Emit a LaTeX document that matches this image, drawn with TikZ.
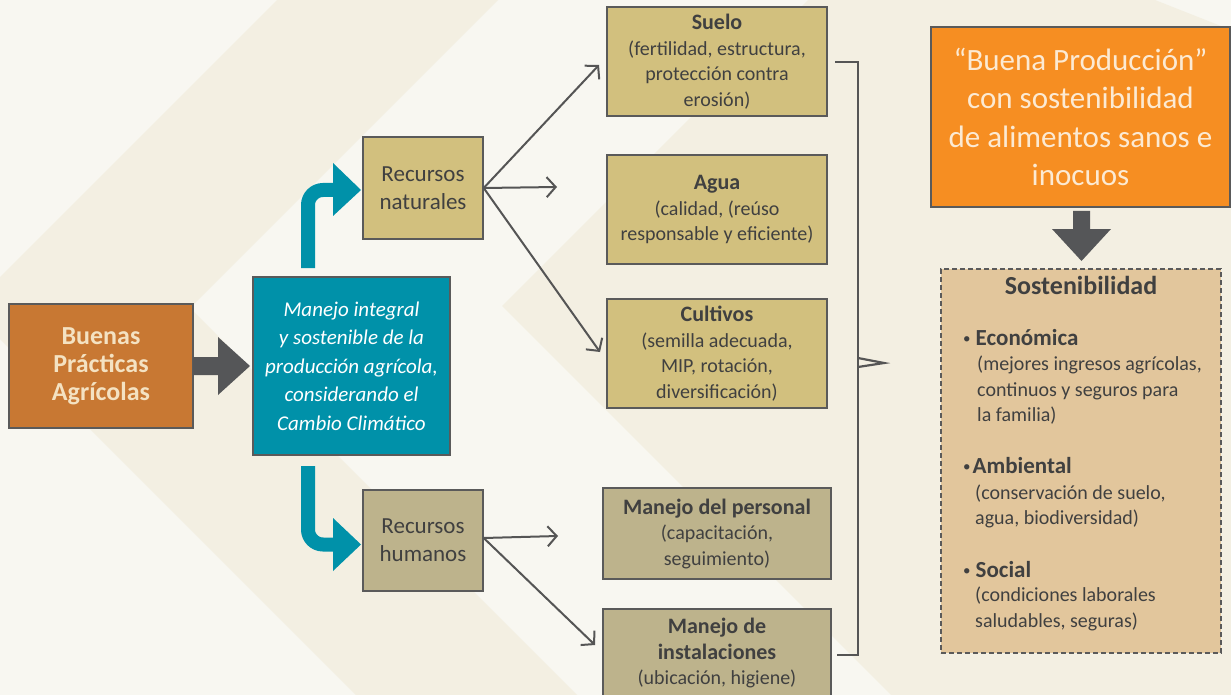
\documentclass[tikz,border=0pt]{standalone}
\usepackage{fontspec}
\setmainfont{Carlito}
\usetikzlibrary{arrows.meta}
\definecolor{bgA}{HTML}{F8F7F1}
\definecolor{bgB}{HTML}{F3EFE2}
\definecolor{bd}{HTML}{5A5A5A}
\definecolor{txt}{HTML}{404040}
\definecolor{ln}{HTML}{555555}
\definecolor{garr}{HTML}{555658}
\definecolor{brn}{HTML}{C87833}
\definecolor{cream}{HTML}{F4E2C2}
\definecolor{tealc}{HTML}{0091A9}
\definecolor{khA}{HTML}{D2C07E}
\definecolor{khB}{HTML}{BDB38C}
\definecolor{orng}{HTML}{F68E22}
\definecolor{ocream}{HTML}{FCEAD3}
\definecolor{tanc}{HTML}{E2C69C}
\newcommand\myfs[2]{\fontsize{#1}{#2}\selectfont}
\newcommand\mybul{{\mdseries\myfs{15}{15}\raisebox{1.5pt}{•}}}
\begin{document}
\begin{tikzpicture}[x=1pt,y=-1pt,
  box/.style={draw=bd, line width=1.4pt, inner sep=0pt, align=center, text=txt},
  body/.style={font=\myfs{20}{25.5}},
  conn/.style={draw=ln, line width=2pt, -{Straight Barb[length=9pt,width=20pt]}},
  tshaft/.style={draw=tealc, line width=14pt, rounded corners=15pt},
  lbl/.style={anchor=base west, inner sep=0pt, text=txt, font=\myfs{20}{25.5}},
  blt/.style={anchor=base west, inner sep=0pt, text=txt, font=\bfseries\myfs{23}{25.5}}
]
\useasboundingbox (0,0) rectangle (1231,695);
\clip (0,0) rectangle (1231,695);
% background
\fill[bgA] (0,0) rectangle (1231,695);
\fill[bgB] (277,0) -- (498,0) -- (190,308) -- (577,695) -- (356,695) -- (-31,308) -- cycle;
\fill[bgB] (808,0) -- (1155,0) -- (1231,30) -- (1231,695) -- (891,695) -- (502,306) -- cycle;

% boxes
\node[box, fill=brn, text=cream, minimum width=184pt, minimum height=124pt,
  font=\bfseries\myfs{26}{28}] (bpa) at (101,366) {Buenas\\Prácticas\\Agrícolas};
\node[box, fill=tealc, text=white, minimum width=197pt, minimum height=178pt,
  font=\itshape\myfs{21}{28.5}] (mi) at (351.5,366)
  {Manejo integral\\y sostenible de la\\producción agrícola,\\considerando el\\Cambio Climático};
\node[box, fill=khA, minimum width=120pt, minimum height=102pt, font=\myfs{23}{28}]
  (nat) at (423,188) {Recursos\\naturales};
\node[box, fill=khB, minimum width=120pt, minimum height=101pt, font=\myfs{23}{28}]
  (hum) at (423,540.5) {Recursos\\humanos};

\node[box, body, fill=khA, minimum width=220pt, minimum height=109pt] (suelo) at (717,61.5)
  {{\bfseries\myfs{22}{25.5}Suelo}\\(fertilidad, estructura,\\protección contra\\erosión)};
\node[box, body, fill=khA, minimum width=220pt, minimum height=109pt] (agua) at (717,209.5)
  {{\bfseries\myfs{22}{25.5}Agua}\\(calidad, (reúso\\responsable y eficiente)};
\node[box, body, fill=khA, minimum width=220pt, minimum height=109pt] (cult) at (717,353.5)
  {{\bfseries\myfs{22}{25.5}Cultivos}\\(semilla adecuada,\\MIP, rotación,\\diversificación)};
\node[box, body, fill=khB, minimum width=228pt, minimum height=91pt] (pers) at (717,533.5)
  {{\bfseries\myfs{22}{25.5}Manejo del personal}\\(capacitación,\\seguimiento)};
\node[box, body, fill=khB, minimum width=228pt, minimum height=88pt] (inst) at (717,653)
  {{\bfseries\myfs{22}{25.5}Manejo de}\\{\bfseries\myfs{22}{25.5}instalaciones}\\(ubicación, higiene)};

\node[box, fill=orng, text=ocream, minimum width=299pt, minimum height=180pt,
  font=\myfs{31}{38.5}] (buena) at (1080.5,117)
  {“Buena Producción”\\con sostenibilidad\\de alimentos sanos e\\inocuos};
\node[draw=bd, dashed, dash pattern=on 5pt off 3pt, line width=1.3pt, fill=tanc,
  minimum width=280pt, minimum height=384pt, inner sep=0pt] (sost) at (1081,461) {};

% sostenibilidad texts
\node[anchor=base, inner sep=0pt, text=txt, font=\bfseries\myfs{26}{28}] (s0) at (1081,294) {Sostenibilidad};
\node[blt] (s1) at (963,345) {\mybul\hspace{5pt}Económica};
\node[lbl] (s2) at (977,370) {(mejores ingresos agrícolas,};
\node[lbl] (s3) at (977,396) {continuos y seguros para};
\node[lbl] (s4) at (977,421) {la familia)};
\node[blt] (s5) at (963,473) {\mybul\hspace{2pt}Ambiental};
\node[lbl] (s6) at (975,499) {(conservación de suelo,};
\node[lbl] (s7) at (975,524) {agua, biodiversidad)};
\node[blt] (s8) at (963,577) {\mybul\hspace{5pt}Social};
\node[lbl] (s9) at (975,601) {(condiciones laborales};
\node[lbl] (s10) at (975,627) {saludables, seguras)};

% big gray arrows
\fill[garr] (193,357) -- (218,357) -- (218,337) -- (250,366) -- (218,395) -- (218,375) -- (193,375) -- cycle;
\fill[garr] (1073,211) -- (1090,211) -- (1090,229) -- (1111,229) -- (1081.5,261) -- (1052,229) -- (1073,229) -- cycle;

% teal bent arrows
\coordinate (ua) at (308,268);
\coordinate (ub) at (336,190);
\draw[tshaft] (ua) |- (ub);
\fill[tealc] (333,163) -- (361,190) -- (333,216) -- cycle;
\coordinate (da) at (308,466);
\coordinate (db) at (336,544.5);
\draw[tshaft] (da) |- (db);
\fill[tealc] (333,518) -- (361,544.5) -- (333,571) -- cycle;

% connectors
\coordinate (tS) at (599,65);
\coordinate (tA) at (557,187);
\coordinate (tC) at (600,352);
\coordinate (tP) at (558,536);
\coordinate (tI) at (595,645);
\draw[conn] (nat.east) -- (tS);
\draw[conn] (nat.east) -- (tA);
\draw[conn] (nat.east) -- (tC);
\draw[conn] ([yshift=2.5pt]hum.east) -- (tP);
\draw[conn] ([yshift=2.5pt]hum.east) -- (tI);

% bracket
\coordinate (b1) at (835,62);
\coordinate (b2) at (858,62);
\coordinate (b3) at (858,655);
\coordinate (b4) at (837,655);
\draw[draw=ln, line width=2.5pt] (b1) -- (b2) -- (b3) -- (b4);
\draw[draw=ln, line width=2.2pt, line join=miter] (858,358) -- (884,363) -- (858,367);
\end{tikzpicture}
\end{document}
